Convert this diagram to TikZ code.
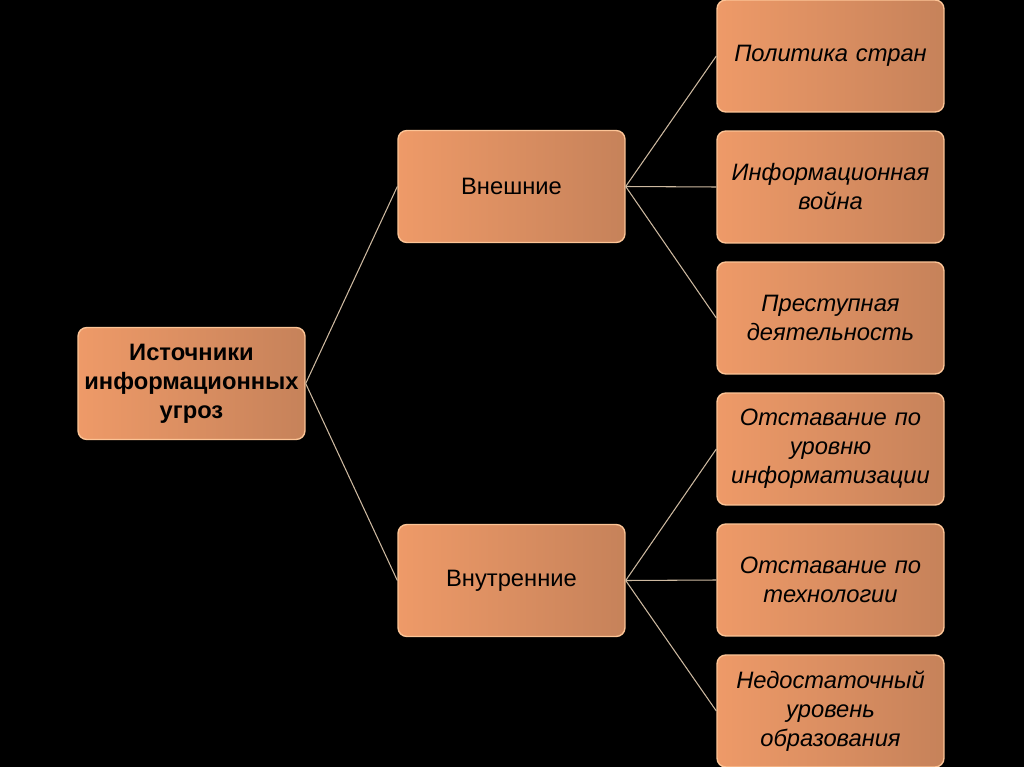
\documentclass[tikz,border=0pt]{standalone}
\usepackage{fontspec}
\setmainfont{Liberation Sans}
\usetikzlibrary{positioning}
\definecolor{boxlight}{RGB}{238,154,104}
\definecolor{boxdark}{RGB}{198,130,90}
\definecolor{boxedge}{RGB}{252,196,150}
\definecolor{linkcol}{RGB}{205,185,160}

\begin{document}
\begin{tikzpicture}[x=0.02cm, y=-0.02cm,
    every node/.style={align=center, font=\fontsize{13.5}{16.5}\selectfont},
    box/.style={draw=boxedge, line width=0.8pt, rounded corners=5pt,
      left color=boxlight, right color=boxdark,
      minimum width=4.54cm, minimum height=2.24cm, text width=4.3cm},
    rootbox/.style={box, font=\fontsize{13.5}{16.5}\selectfont\bfseries},
    leafbox/.style={box, font=\fontsize{13.5}{16.5}\selectfont\itshape},
    link/.style={linkcol, line width=0.6pt}]
    \fill[black] (0,0) rectangle (1024,767);
    \useasboundingbox (0,0) rectangle (1024,767);
    % left and middle columns
    \node[rootbox] (sources) at (191.5,383.5) {Источники\\информационных\\угроз};
    \node[box] (external) at (511.5,186.5) {Внешние};
    \node[box] (internal) at (511.5,580.5) {Внутренние};
    % right column
    \node[leafbox] (policy) at (830.5,56) {Политика стран};
    \node[leafbox] (infowar) at (830.5,187) {Информационная\\война};
    \node[leafbox] (crime) at (830.5,318) {Преступная\\деятельность};
    \node[leafbox] (lagIT) at (830.5,449) {Отставание по\\уровню\\информатизации};
    \node[leafbox] (lagTech) at (830.5,580) {Отставание по\\технологии};
    \node[leafbox] (education) at (830.5,711) {Недостаточный\\уровень\\образования};
    % connectors
    \draw[link] (sources.east) -- (external.west);
    \draw[link] (sources.east) -- (internal.west);
    \foreach \leaf in {policy,infowar,crime}
      \draw[link] (external.east) -- (\leaf.west);
    \foreach \leaf in {lagIT,lagTech,education}
      \draw[link] (internal.east) -- (\leaf.west);
\end{tikzpicture}
\end{document}
